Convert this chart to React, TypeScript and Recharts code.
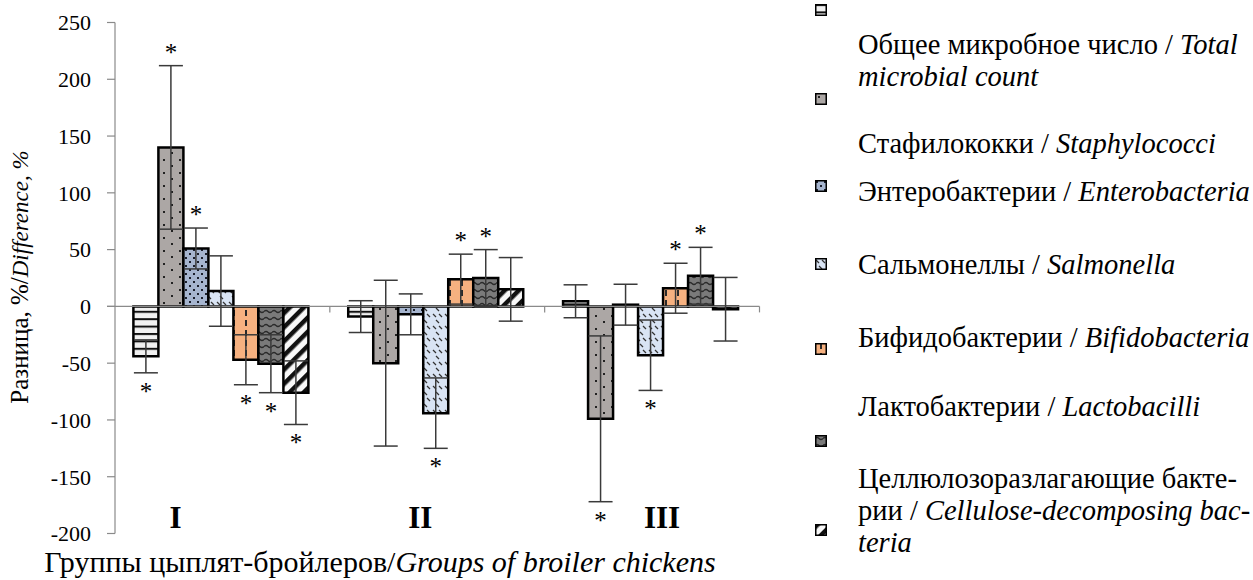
import { BarChart, Bar, XAxis, YAxis, ErrorBar, LabelList, ReferenceLine } from "recharts";

const groups = ["I", "II", "III"];

const totalCount = [-44, -9, 4.5];
const staphylococci = [140, -50, -99];
const enterobacteria = [51, -7, 1.5];
const salmonella = [13.5, -94, -43];
const bifidobacteria = [-47, 24, 16];
const lactobacilli = [-50.5, 25, 27];
const cellulose = [-76, 15, -2.5];

const totalErr = [14.5, 14, 14.5];
const staphErr = [72, 73, 73];
const enteroErr = [18, 18, 18];
const salmErr = [31, 31, 31];
const bifidoErr = [22, 22, 22];
const lactoErr = [25.5, 25, 25];
const celluloseErr = [28, 28, 28];

// 1 = marked with * (p < 0.05)
const totalSig = [1, 0, 0];
const staphSig = [1, 0, 1];
const enteroSig = [1, 0, 0];
const salmSig = [0, 1, 1];
const bifidoSig = [1, 1, 1];
const lactoSig = [1, 1, 1];
const celluloseSig = [1, 0, 0];

const yTicks = [-200, -150, -100, -50, 0, 50, 100, 150, 200, 250];

const seriesKeys = ["total", "staph", "entero", "salm", "bifido", "lacto", "cellulose"];
const seriesValues = [totalCount, staphylococci, enterobacteria, salmonella, bifidobacteria, lactobacilli, cellulose];
const seriesErrors = [totalErr, staphErr, enteroErr, salmErr, bifidoErr, lactoErr, celluloseErr];
const seriesSig = [totalSig, staphSig, enteroSig, salmSig, bifidoSig, lactoSig, celluloseSig];
const seriesFill = ["pTotal", "pStaph", "pEntero", "pSalm", "pBifido", "pLacto", "pCellulose"];

const legendRu = [
  "Общее микробное число",
  "Стафилококки",
  "Энтеробактерии",
  "Сальмонеллы",
  "Бифидобактерии",
  "Лактобактерии",
  "Целлюлозоразлагающие бакте-",
];
const legendEn = [
  "Total microbial count",
  "Staphylococci",
  "Enterobacteria",
  "Salmonella",
  "Bifidobacteria",
  "Lactobacilli",
  "Cellulose-decomposing bacteria",
];

const data = groups.map((g, i) => {
  const row: Record<string, string | number> = { group: g };
  seriesKeys.forEach((k, s) => {
    row[k] = seriesValues[s][i];
    row[k + "Err"] = seriesErrors[s][i];
  });
  return row;
});

const serif = '"Liberation Serif", "DejaVu Serif", serif';
const groupShift = [-47, -17, 10];

const makeStar = (s: number) => (props: any) => {
  const vb = props.viewBox ?? props;
  const idx = props.index;
  if (!seriesSig[s][idx]) return null;
  const value = seriesValues[s][idx];
  const err = seriesErrors[s][idx];
  const { x, y, width, height } = vb;
  const k = Math.abs(height / value);
  const top = Math.min(y, y + height);
  const bottom = Math.max(y, y + height);
  const cy = value >= 0 ? top - err * k - 16 : bottom + err * k + 16;
  return (
    <text x={x + width / 2} y={cy + 11} textAnchor="middle" fontSize={25} fontFamily={serif} fill="#000">
      *
    </text>
  );
};

const GroupTick = (props: any) => {
  const { x, y, payload, index } = props;
  return (
    <text x={x + groupShift[index]} y={y - 6} textAnchor="middle" fontSize={31} fontWeight="bold" fontFamily={serif} fill="#000">
      {payload.value}
    </text>
  );
};

const ZeroLine = (props: any) => {
  const { x1, y1, x2 } = props;
  const step = (x2 - x1) / groups.length;
  return (
    <g>
      <line x1={x1 - 8} y1={y1} x2={x2} y2={y1} stroke="#8a8a8a" strokeWidth={1.2} />
      {groups.map((g, i) => (
        <line key={g} x1={x1 + step * (i + 1)} y1={y1} x2={x1 + step * (i + 1)} y2={y1 + 6} stroke="#8a8a8a" strokeWidth={1.2} />
      ))}
    </g>
  );
};

function Swatch({ id }: { id: string }) {
  return (
    <svg width={12} height={12} style={{ display: "block" }}>
      <rect x={0.75} y={0.75} width={10.5} height={10.5} fill={`url(#${id})`} stroke="#000" strokeWidth={1.5} />
    </svg>
  );
}

// legend layout: icon centre y, first text line centre y
const legendIconY = [10, 99, 186, 264, 349, 441, 530];
const legendTextY = [45, 144, 192, 265, 338, 407, 479];

export default function App() {
  return (
    <div style={{ position: "relative", width: 1253, height: 580, overflow: "hidden", background: "#fff" }}>
      <style>{`body{margin:0}`}</style>
      <BarChart
        width={1253}
        height={580}
        data={data}
        margin={{ top: 22.5, right: 493.5, bottom: 16.5, left: 55 }}
        barGap={0}
        barCategoryGap={18.4}
      >
        <defs>
          <pattern id="pTotal" width={8} height={7.4} patternUnits="userSpaceOnUse">
            <rect width={8} height={7.4} fill="#f1f1f1" />
            <rect y={0} width={8} height={2} fill="#111" />
          </pattern>
          <pattern id="pStaph" width={16} height={13} patternUnits="userSpaceOnUse">
            <rect width={16} height={13} fill="#aca7a5" />
            <rect x={3} y={3} width={2} height={2} fill="#222" />
            <rect x={11} y={9} width={2} height={2} fill="#222" />
          </pattern>
          <pattern id="pEntero" width={8} height={8} patternUnits="userSpaceOnUse">
            <rect width={8} height={8} fill="#a6b5cf" />
            <rect x={1} y={1} width={2} height={2} fill="#1b1f2c" />
            <rect x={5} y={5} width={2} height={2} fill="#1b1f2c" />
          </pattern>
          <pattern id="pSalm" width={12} height={12} patternUnits="userSpaceOnUse">
            <rect width={12} height={12} fill="#d9e4f4" />
            <line x1={1} y1={2} x2={4} y2={5} stroke="#333" strokeWidth={1.2} />
            <line x1={7} y1={2} x2={10} y2={5} stroke="#333" strokeWidth={1.2} />
            <line x1={4} y1={8} x2={7} y2={11} stroke="#333" strokeWidth={1.2} />
          </pattern>
          <pattern id="pBifido" width={12} height={10} patternUnits="userSpaceOnUse">
            <rect width={12} height={10} fill="#f6b180" />
            <rect x={5} y={0} width={2} height={6} fill="#2a2a2a" />
          </pattern>
          <pattern id="pLacto" width={8} height={7} patternUnits="userSpaceOnUse">
            <rect width={8} height={7} fill="#7a7a7a" />
            <path d="M0 3.5 Q2 1.5 4 3.5 T8 3.5" stroke="#2a2a2a" fill="none" strokeWidth={1.3} />
          </pattern>
          <pattern id="pCellulose" width={10} height={10} patternUnits="userSpaceOnUse" patternTransform="rotate(45)">
            <rect width={10} height={10} fill="#f8f8f8" />
            <rect width={4.5} height={10} fill="#111" />
          </pattern>
        </defs>
        <ReferenceLine y={0} shape={ZeroLine} />
        <YAxis
          type="number"
          domain={[-200, 250]}
          ticks={yTicks}
          interval={0}
          width={60}
          tickSize={8}
          tickMargin={16}
          axisLine={{ stroke: "#8a8a8a", strokeWidth: 1.2 }}
          tickLine={{ stroke: "#8a8a8a", strokeWidth: 1.2 }}
          tick={{ fontSize: 22, fontFamily: serif, fill: "#000" }}
        />
        <XAxis
          dataKey="group"
          height={30}
          axisLine={false}
          tickLine={false}
          tickSize={0}
          tickMargin={0}
          tick={<GroupTick />}
        />
        {seriesKeys.map((k, s) => (
          <Bar
            key={k}
            dataKey={k}
            fill={`url(#${seriesFill[s]})`}
            stroke="#000"
            strokeWidth={2.5}
            isAnimationActive={false}
          >
            <ErrorBar dataKey={k + "Err"} width={12} stroke="#3a3a3a" strokeWidth={1.5} />
            <LabelList dataKey={k} content={makeStar(s)} />
          </Bar>
        ))}
      </BarChart>

      <div
        style={{
          position: "absolute",
          left: 20,
          top: 277,
          transform: "translate(-50%, -50%) rotate(-90deg)",
          whiteSpace: "nowrap",
          fontFamily: serif,
          fontSize: 25,
          color: "#000",
        }}
      >
        Разница, %/<i style={{ fontSize: 23 }}>Difference, %</i>
      </div>

      <div
        style={{
          position: "absolute",
          left: 0,
          width: 760,
          top: 550,
          textAlign: "center",
          whiteSpace: "nowrap",
          fontFamily: serif,
          fontSize: 30,
          lineHeight: "24px",
          color: "#000",
        }}
      >
        Группы цыплят-бройлеров/<i>Groups of broiler chickens</i>
      </div>

      {seriesFill.map((id, s) => (
        <div key={id} style={{ position: "absolute", left: 815, top: legendIconY[s] - 6 }}>
          <Swatch id={id} />
        </div>
      ))}
      {legendRu.map((ru, s) => {
        let lines: any[];
        if (s === 0) lines = [<>{ru} / <i>Total</i></>, <i>microbial count</i>];
        else if (s === 6)
          lines = [<>{ru}</>, <>рии / <i>Cellulose-decomposing bac-</i></>, <i>teria</i>];
        else lines = [<>{ru} / <i>{legendEn[s]}</i></>];
        return (
          <div
            key={ru}
            style={{
              position: "absolute",
              left: 858,
              top: legendTextY[s] - 16,
              fontFamily: serif,
              fontSize: 28.5,
              lineHeight: "32px",
              whiteSpace: "nowrap",
              color: "#000",
            }}
          >
            {lines.map((l, j) => (
              <div key={j}>{l}</div>
            ))}
          </div>
        );
      })}
    </div>
  );
}
